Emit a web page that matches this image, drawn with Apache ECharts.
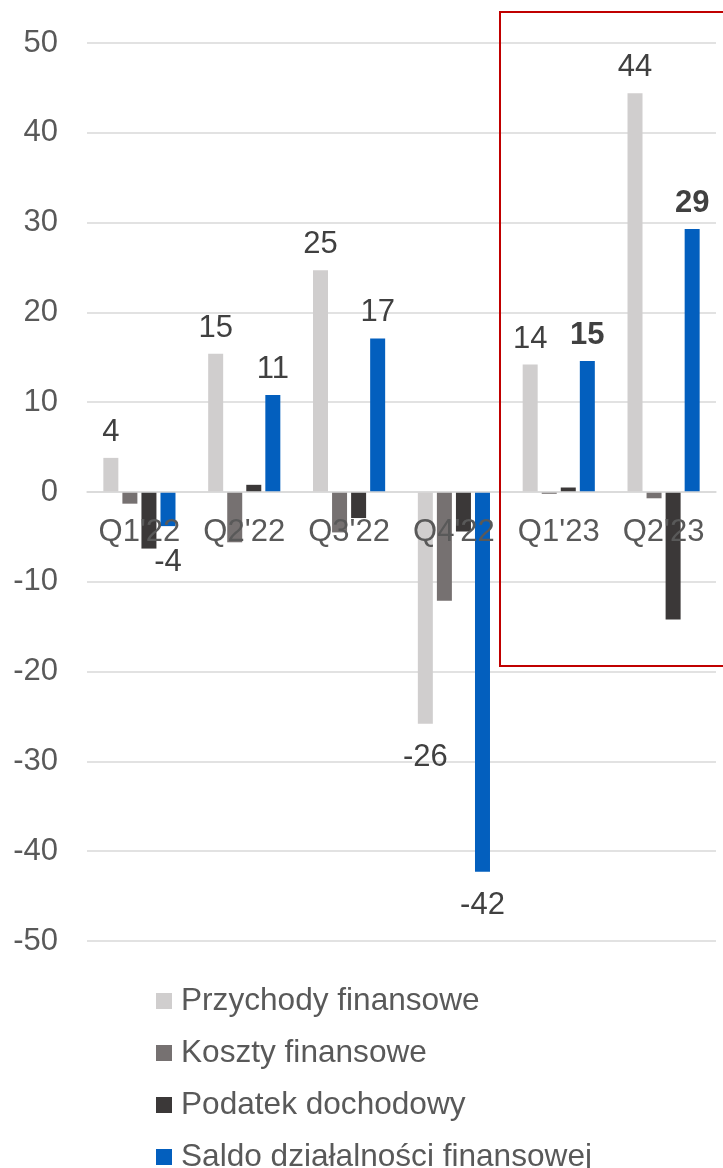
<!DOCTYPE html>
<html>
<head>
<meta charset="utf-8">
<style>
  html, body { margin: 0; padding: 0; background: #ffffff; }
  #chart { width: 723px; height: 1168px; }
</style>
<script src="https://cdn.jsdelivr.net/npm/echarts@6/dist/echarts.min.js"></script>
</head>
<body>
<div id="chart"></div>
<script>
// Quarterly financial activity result (PLN m)
const categories = ["Q1'22", "Q2'22", "Q3'22", "Q4'22", "Q1'23", "Q2'23"];
const seriesNames = ['Przychody finansowe', 'Koszty finansowe', 'Podatek dochodowy', 'Saldo działalności finansowej'];
const przychody = [3.8, 15.4, 24.7, -25.8, 14.2, 44.4];
const koszty = [-1.3, -5.6, -4.5, -12.1, -0.2, -0.7];
const podatek = [-6.3, 0.8, -2.9, -4.4, 0.5, -14.2];
const saldo = [-3.8, 10.8, 17.1, -42.3, 14.6, 29.3];
const boldLabels = ["Q1'23", "Q2'23"];
const yTicks = { min: -50, max: 50, interval: 10 };

const colors = ['#d0cece', '#767171', '#3b3838', '#035fbe'];
const FONT = '"Liberation Sans", Arial, sans-serif';
const FS = 31;

// value labels: above positive bars, below negative ones
function labelled(values, isSaldo) {
  return values.map((v, i) => {
    const below = v < 0;
    let distance = below ? 18 : 10;
    if (below && Math.abs(v) < 5) distance = 21;
    return {
      value: v,
      label: {
        show: true,
        position: below ? 'bottom' : 'top',
        distance: distance,
        fontWeight: isSaldo && boldLabels.includes(categories[i]) ? 'bold' : 'normal'
      }
    };
  });
}

const baseLabel = {
  fontFamily: FONT,
  fontSize: FS,
  color: '#404040',
  formatter: p => String(Math.round(p.value))
};

const chart = echarts.init(document.getElementById('chart'), null, { renderer: 'canvas' });
chart.setOption({
  animation: false,
  backgroundColor: '#ffffff',
  textStyle: { fontFamily: FONT },
  grid: { left: 87, right: 7, top: 43, bottom: 227, containLabel: false },
  legend: {
    orient: 'vertical',
    left: 156,
    top: 985,
    height: 260,
    padding: 0,
    itemWidth: 16,
    itemHeight: 16,
    itemGap: 20,
    icon: 'rect',
    textStyle: { fontFamily: FONT, fontSize: 31.6, color: '#595959', lineHeight: 32, padding: [0, 0, 0, 4] },
    data: seriesNames
  },
  xAxis: {
    type: 'category',
    data: categories,
    z: 10,
    axisLine: { show: true, onZero: false, lineStyle: { color: '#d9d9d9', width: 1.5 } },
    axisTick: { show: false },
    axisLabel: { fontFamily: FONT, fontSize: FS, color: '#595959', margin: 25, interval: 0 }
  },
  yAxis: {
    type: 'value',
    min: yTicks.min,
    max: yTicks.max,
    interval: yTicks.interval,
    axisLine: { show: false },
    axisTick: { show: false },
    splitLine: { lineStyle: { color: '#d9d9d9', width: 1.5 } },
    axisLabel: { fontFamily: FONT, fontSize: FS, color: '#595959', margin: 29 }
  },
  series: [
    {
      name: seriesNames[0], type: 'bar', barWidth: 15, barGap: '27%',
      itemStyle: { color: colors[0] },
      label: baseLabel,
      data: labelled(przychody, false)
    },
    {
      name: seriesNames[1], type: 'bar', barWidth: 15, barGap: '27%',
      itemStyle: { color: colors[1] },
      data: koszty
    },
    {
      name: seriesNames[2], type: 'bar', barWidth: 15, barGap: '27%',
      itemStyle: { color: colors[2] },
      data: podatek
    },
    {
      name: seriesNames[3], type: 'bar', barWidth: 15, barGap: '27%',
      itemStyle: { color: colors[3] },
      label: baseLabel,
      data: labelled(saldo, true)
    }
  ],
  graphic: [
    {
      type: 'rect',
      z: 100,
      shape: { x: 500, y: 12, width: 240, height: 654 },
      style: { fill: 'none', stroke: '#c00000', lineWidth: 2 }
    }
  ]
});

// move the category axis up to the zero line of the value axis
const zeroY = chart.convertToPixel({ yAxisIndex: 0 }, 0);
const bottomY = chart.convertToPixel({ yAxisIndex: 0 }, yTicks.min);
chart.setOption({ xAxis: { offset: zeroY - bottomY } });
</script>
</body>
</html>
